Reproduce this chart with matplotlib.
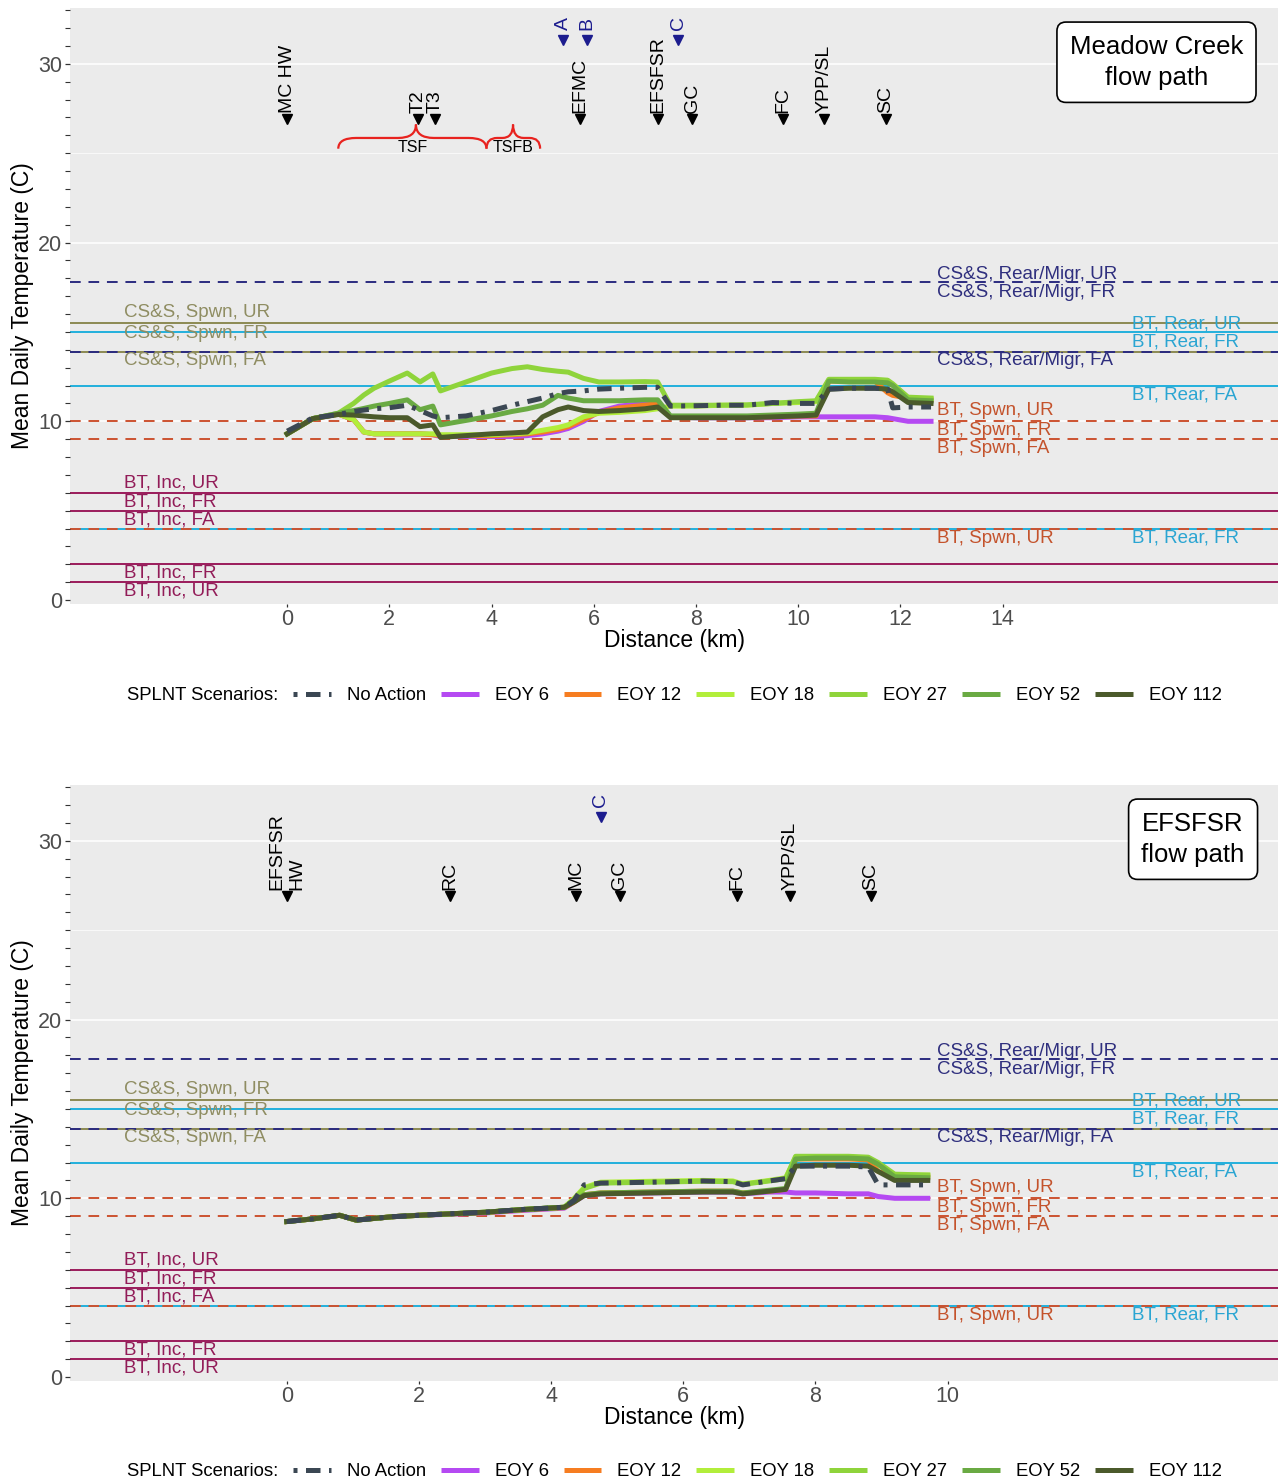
import numpy as np
import matplotlib
matplotlib.use('Agg')
import matplotlib.pyplot as plt
from matplotlib.path import Path
from matplotlib.patches import PathPatch
from matplotlib.lines import Line2D
import matplotlib.transforms as mtransforms

plt.rcParams['font.family'] = ['Liberation Sans', 'DejaVu Sans']

# ---------------- data ----------------
scenario_names = ['No Action', 'EOY 6', 'EOY 12', 'EOY 18', 'EOY 27', 'EOY 52', 'EOY 112']
scenario_colors = ['#3b4753', '#b54af2', '#f67d21', '#b2ee3b', '#8fd43b', '#6aaa43', '#4b5a2b']

# Meadow Creek flow path
mc_km = [0.0, 0.5, 1.0, 1.3, 1.5, 1.7, 2.0, 2.35, 2.6, 2.85, 3.0, 3.5, 4.0, 4.4, 4.7, 5.0, 5.3, 5.5, 5.8,
         6.1, 6.5, 7.0, 7.25, 7.5, 8.0, 8.5, 9.0, 9.5, 10.0, 10.35, 10.6, 11.0, 11.5, 11.75, 11.85, 12.15, 12.6]
mc_no_action = [9.45, 10.19, 10.38, 10.55, 10.63, 10.7, 10.76, 10.9, 10.6, 10.3, 10.2, 10.3, 10.6, 10.9, 11.1,
                11.3, 11.55, 11.65, 11.7, 11.8, 11.85, 11.9, 11.9, 10.85, 10.87, 10.9, 10.9, 11.05, 11.0, 11.0,
                11.8, 11.85, 11.85, 11.8, 10.75, 10.8, 10.8]
mc_eoy6 = [9.3, 10.15, 10.4, 10.1, 9.4, 9.3, 9.3, 9.3, 9.3, 9.25, 9.15, 9.15, 9.15, 9.15, 9.2, 9.3, 9.45, 9.6,
           10.0, 10.55, 10.85, 11.0, 11.1, 10.25, 10.2, 10.2, 10.2, 10.2, 10.25, 10.25, 10.25, 10.25, 10.25,
           10.2, 10.15, 10.0, 10.0]
mc_eoy12 = [9.3, 10.15, 10.4, 10.1, 9.4, 9.3, 9.3, 9.3, 9.3, 9.25, 9.2, 9.2, 9.2, 9.25, 9.3, 9.4, 9.55, 9.7,
            10.1, 10.5, 10.75, 10.9, 11.0, 10.25, 10.25, 10.25, 10.25, 10.25, 10.3, 10.3, 12.25, 12.25, 12.25,
            11.6, 11.45, 11.3, 11.2]
mc_eoy18 = [9.3, 10.15, 10.4, 10.1, 9.4, 9.3, 9.3, 9.3, 9.3, 9.3, 9.25, 9.25, 9.25, 9.3, 9.35, 9.5, 9.65, 9.8,
            10.25, 10.45, 10.5, 10.6, 10.7, 10.85, 10.85, 10.9, 10.9, 11.0, 11.05, 11.1, 12.3, 12.3, 12.3,
            12.25, 12.05, 11.3, 11.25]
mc_eoy27 = [9.3, 10.15, 10.45, 11.0, 11.47, 11.85, 12.25, 12.7, 12.2, 12.65, 11.7, 12.2, 12.7, 12.95, 13.05,
            12.9, 12.8, 12.75, 12.4, 12.2, 12.2, 12.22, 12.2, 10.9, 10.9, 10.9, 10.92, 11.0, 11.1, 11.15, 12.35,
            12.35, 12.35, 12.3, 12.1, 11.35, 11.3]
mc_eoy52 = [9.3, 10.15, 10.45, 10.6, 10.72, 10.85, 11.0, 11.2, 10.65, 10.85, 9.8, 10.05, 10.3, 10.55, 10.7,
            10.9, 11.45, 11.3, 11.15, 11.15, 11.15, 11.2, 11.2, 10.3, 10.3, 10.3, 10.3, 10.35, 10.4, 10.45,
            12.25, 12.2, 12.2, 12.15, 12.0, 11.2, 11.15]
mc_eoy112 = [9.3, 10.15, 10.38, 10.35, 10.3, 10.25, 10.2, 10.2, 9.7, 9.8, 9.1, 9.2, 9.3, 9.35, 9.4, 10.25,
             10.65, 10.8, 10.6, 10.55, 10.6, 10.7, 10.8, 10.2, 10.2, 10.2, 10.2, 10.25, 10.3, 10.35, 11.8,
             11.85, 11.85, 11.8, 11.65, 11.05, 11.0]

mc_site_names = ['MC HW', 'T2', 'T3', 'EFMC', 'EFSFSR', 'GC', 'FC', 'YPP/SL', 'SC']
mc_site_km = [0.0, 2.56, 2.9, 5.73, 7.26, 7.93, 9.71, 10.51, 11.72]
mc_point_names = ['A', 'B', 'C']
mc_point_km = [5.4, 5.87, 7.65]
brace_names = ['TSF', 'TSFB']
brace_start = [1.0, 3.9]
brace_end = [3.9, 4.95]
brace_tip = [2.52, 4.42]

# EFSFSR flow path
ef_km = [0.0, 0.4, 0.8, 1.05, 1.6, 2.0, 2.4, 3.0, 3.6, 4.2, 4.35, 4.5, 4.75, 5.5, 6.3, 6.75, 6.9, 7.3,
         7.55, 7.7, 8.0, 8.5, 8.8, 8.95, 9.2, 9.7]
ef_no_action = [8.7, 8.85, 9.05, 8.78, 8.97, 9.05, 9.12, 9.22, 9.38, 9.5, 9.9, 10.75, 10.85, 10.9, 10.97,
                10.93, 10.75, 10.97, 11.1, 11.8, 11.8, 11.8, 11.75, 10.75, 10.75, 10.75]
ef_eoy6 = [8.7, 8.85, 9.05, 8.78, 8.97, 9.05, 9.1, 9.18, 9.33, 9.45, 9.8, 10.15, 10.25, 10.3, 10.35, 10.35,
           10.25, 10.35, 10.35, 10.3, 10.3, 10.25, 10.25, 10.1, 10.0, 10.0]
ef_eoy12 = [8.7, 8.85, 9.05, 8.78, 8.97, 9.05, 9.12, 9.2, 9.36, 9.48, 9.8, 10.2, 10.3, 10.35, 10.4, 10.4,
            10.3, 10.4, 10.5, 12.2, 12.2, 12.2, 12.15, 11.5, 11.25, 11.2]
ef_eoy18 = [8.7, 8.85, 9.05, 8.78, 8.97, 9.05, 9.12, 9.22, 9.38, 9.5, 10.0, 10.6, 10.9, 10.95, 11.0, 10.97,
            10.8, 11.0, 11.15, 12.3, 12.3, 12.3, 12.25, 11.9, 11.3, 11.3]
ef_eoy27 = [8.7, 8.85, 9.05, 8.78, 8.97, 9.05, 9.12, 9.22, 9.38, 9.5, 9.95, 10.55, 10.85, 10.9, 10.95, 10.93,
            10.78, 10.97, 11.1, 12.35, 12.35, 12.35, 12.3, 12.0, 11.35, 11.3]
ef_eoy52 = [8.7, 8.85, 9.05, 8.78, 8.97, 9.05, 9.12, 9.22, 9.38, 9.5, 9.85, 10.2, 10.3, 10.35, 10.4, 10.4,
            10.3, 10.45, 10.55, 12.2, 12.25, 12.25, 12.2, 11.9, 11.2, 11.15]
ef_eoy112 = [8.7, 8.85, 9.05, 8.78, 8.97, 9.05, 9.12, 9.22, 9.38, 9.5, 9.8, 10.15, 10.25, 10.3, 10.35, 10.35,
             10.25, 10.4, 10.5, 11.8, 11.85, 11.85, 11.8, 11.5, 11.0, 11.0]

ef_site_names = ['EFSFSR\nHW', 'RC', 'MC', 'GC', 'FC', 'YPP/SL', 'SC']
ef_site_km = [0.0, 2.47, 4.37, 5.04, 6.81, 7.61, 8.84]
ef_point_names = ['C']
ef_point_km = [4.75]

# temperature criteria lines (same on both panels)
crit_values = [17.8, 15.5, 15.0, 13.9, 13.9, 12.0, 10.0, 9.0, 6.0, 5.0, 4.0, 4.0, 2.0, 1.0]
crit_groups = ['csrm', 'css', 'btr', 'css', 'csrm', 'btr', 'bts', 'bts', 'bti', 'bti', 'btr', 'bts', 'bti', 'bti']
crit_label_text = ['CS&S, Rear/Migr, UR', 'CS&S, Rear/Migr, FR', 'CS&S, Rear/Migr, FA',
                   'CS&S, Spwn, UR', 'CS&S, Spwn, FR', 'CS&S, Spwn, FA',
                   'BT, Rear, UR', 'BT, Rear, FR', 'BT, Rear, FA',
                   'BT, Spwn, UR', 'BT, Spwn, FR', 'BT, Spwn, FA',
                   'BT, Inc, UR', 'BT, Inc, FR', 'BT, Inc, FA',
                   'BT, Spwn, UR', 'BT, Rear, FR', 'BT, Inc, FR', 'BT, Inc, UR']
crit_label_y = [18.2, 17.2, 13.4, 16.06, 14.9, 13.4, 15.45, 14.45, 11.47, 10.58, 9.5, 8.5,
                6.55, 5.48, 4.48, 3.47, 3.47, 1.5, 0.5]
crit_label_group = ['csrm', 'csrm', 'csrm', 'css', 'css', 'css', 'btr', 'btr', 'btr', 'bts', 'bts', 'bts',
                    'bti', 'bti', 'bti', 'bts', 'btr', 'bti', 'bti']
crit_label_col = ['mid', 'mid', 'mid', 'left', 'left', 'left', 'right', 'right', 'right', 'mid', 'mid', 'mid',
                  'left', 'left', 'left', 'mid', 'right', 'left', 'left']

group_color = {'csrm': '#2b2b80', 'css': '#8c8a52', 'btr': '#22b0dc', 'bts': '#cc5230', 'bti': '#9a1b5b'}
group_text_color = {'csrm': '#2f2f7e', 'css': '#8f8d62', 'btr': '#2aa5d2', 'bts': '#c4532c', 'bti': '#921c58'}
group_dashed = {'csrm': True, 'css': False, 'btr': False, 'bts': True, 'bti': False}
col_xfrac = {'left': 0.0447, 'mid': 0.7177, 'right': 0.879}

W, H = 1281, 1483
fig = plt.figure(figsize=(W / 100, H / 100), dpi=100)


def draw_brace(ax, x0, x1, xt, y_end=25.25, y_mid=25.85, y_tip=26.6):
    r = min(0.35, (x1 - x0) / 5)
    verts = [(x0, y_end), (x0, y_mid), (x0 + r, y_mid),
             (xt - r, y_mid), (xt, y_mid), (xt, y_tip),
             (xt, y_mid), (xt + r, y_mid),
             (x1 - r, y_mid), (x1, y_mid), (x1, y_end)]
    codes = [Path.MOVETO, Path.CURVE3, Path.CURVE3, Path.LINETO, Path.CURVE3, Path.CURVE3,
             Path.CURVE3, Path.CURVE3, Path.LINETO, Path.CURVE3, Path.CURVE3]
    ax.add_patch(PathPatch(Path(verts, codes), fill=False, edgecolor='#e8231f', lw=1.6, zorder=4))


def draw_panel(ax, km, series, xlim, xticks, sites, site_km, points, point_km, box_text, box_x):
    ax.set_facecolor('#ebebeb')
    for s in ax.spines.values():
        s.set_visible(False)
    ax.set_xlim(*xlim)
    ax.set_ylim(-0.22, 33.12)
    ax.set_xticks(xticks)
    ax.set_xticklabels([str(t) for t in xticks])
    ax.set_yticks([0, 10, 20, 30])
    ax.set_yticks(np.arange(0, 34, 1), minor=True)
    ax.tick_params(axis='both', which='major', length=3.5, color='#333333', labelcolor='#4d4d4d',
                   labelsize=15.5, width=0.9)
    ax.tick_params(axis='x', which='major', length=2.2, pad=1.2)
    ax.tick_params(axis='y', which='major', pad=2)
    ax.tick_params(axis='y', which='minor', length=3.5, color='#333333', width=0.8)
    for g in [10, 20, 30]:
        ax.axhline(g, color='white', lw=1.1, zorder=0)
    for g in [5, 15, 25]:
        ax.axhline(g, color='white', lw=0.5, zorder=0)

    # criteria lines
    for v, g in zip(crit_values, crit_groups):
        if group_dashed[g]:
            ax.axhline(v, color=group_color[g], lw=1.4, dashes=(5.5, 4), zorder=1)
        else:
            ax.axhline(v, color=group_color[g], lw=1.4, zorder=1)
    trans = mtransforms.blended_transform_factory(ax.transAxes, ax.transData)
    for t, y, g, c in zip(crit_label_text, crit_label_y, crit_label_group, crit_label_col):
        ax.text(col_xfrac[c], y, t, transform=trans, color=group_text_color[g], fontsize=13.5,
                ha='left', va='center', zorder=2)

    # scenario lines
    order = [1, 2, 3, 4, 5, 6, 0]
    for i in order:
        if i == 0:
            ax.plot(km, series[i], color=scenario_colors[i], lw=3.6, dashes=(2.9, 1.7, 0.8, 1.7), zorder=6)
        else:
            ax.plot(km, series[i], color=scenario_colors[i], lw=3.6, zorder=5, solid_joinstyle='round')

    # site markers
    for name, x in zip(sites, site_km):
        ax.plot(x, 26.9, marker='v', color='black', markersize=7.5, zorder=7, linestyle='none')
        ax.annotate(name, xy=(x, 26.9), xytext=(0, 4.5), textcoords='offset points', rotation=90,
                    rotation_mode='anchor', ha='left', va='center', multialignment='left',
                    fontsize=14, color='black')
    for name, x in zip(points, point_km):
        ax.plot(x, 31.35, marker='v', color='#1c1c8e', markersize=7.5, zorder=7, linestyle='none')
        ax.annotate(name, xy=(x, 31.35), xytext=(0, 7), textcoords='offset points', rotation=90,
                    rotation_mode='anchor', ha='left', va='center', fontsize=14, color='#1c1c8e')

    ax.text(box_x, 0.909, box_text, transform=ax.transAxes, ha='center', va='center', fontsize=18.5,
            linespacing=1.35,
            bbox=dict(boxstyle='round,pad=0.5,rounding_size=0.35', facecolor='white', edgecolor='black',
                      lw=1.2), zorder=8)

    ax.set_xlabel('Distance (km)', fontsize=16.5, color='black')
    ax.xaxis.set_label_coords(0.5, -0.062)
    ax.xaxis.label.set_va('center')
    ax.set_ylabel('Mean Daily Temperature (C)', fontsize=16.5, color='black')
    ax.yaxis.set_label_coords(-0.0397, 0.5)
    ax.yaxis.label.set_va('center')


def draw_legend(y_px):
    fig.text(127 / W, 1 - y_px / H, 'SPLNT Scenarios:', ha='left', va='center', fontsize=13.3)
    handles = []
    for i, (n, c) in enumerate(zip(scenario_names, scenario_colors)):
        if i == 0:
            handles.append(Line2D([], [], color=c, lw=3.6, dashes=(0.8, 1.7, 2.9, 1.7)))
        else:
            handles.append(Line2D([], [], color=c, lw=3.6, solid_capstyle='butt'))
    fig.legend(handles, scenario_names, loc='center left', bbox_to_anchor=(293 / W, 1 - y_px / H),
               ncol=7, frameon=False, fontsize=13.3, handlelength=2.05, handletextpad=0.87,
               columnspacing=0.8, borderaxespad=0, borderpad=0)


ax1 = fig.add_axes([70 / W, 1 - 604 / H, 1208 / W, 596 / H])
draw_panel(ax1, mc_km, [mc_no_action, mc_eoy6, mc_eoy12, mc_eoy18, mc_eoy27, mc_eoy52, mc_eoy112],
           (-4.25, 19.39), [0, 2, 4, 6, 8, 10, 12, 14], mc_site_names, mc_site_km,
           mc_point_names, mc_point_km, 'Meadow Creek\nflow path', 0.8994)
for name, x0, x1, xt in zip(brace_names, brace_start, brace_end, brace_tip):
    draw_brace(ax1, x0, x1, xt)
    ax1.text((x0 + x1) / 2, 25.3, name, ha='center', va='center', fontsize=11.5, color='black')
draw_legend(696)

ax2 = fig.add_axes([70 / W, 1 - 1381 / H, 1208 / W, 596 / H])
draw_panel(ax2, ef_km, [ef_no_action, ef_eoy6, ef_eoy12, ef_eoy18, ef_eoy27, ef_eoy52, ef_eoy112],
           (-3.28, 15.0), [0, 2, 4, 6, 8, 10], ef_site_names, ef_site_km,
           ef_point_names, ef_point_km, 'EFSFSR\nflow path', 0.9297)
draw_legend(1472)

fig.savefig('out.png', dpi=100)
